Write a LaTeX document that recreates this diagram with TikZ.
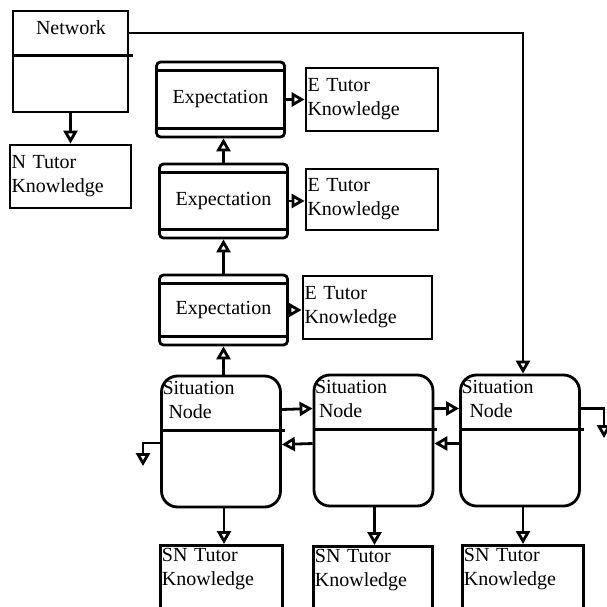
\documentclass[tikz,border=0pt]{standalone}
\usepackage{fontspec}
\setmainfont{Liberation Serif}
\usepackage{tikz}
\usetikzlibrary{arrows.meta}

\begin{document}
\begin{tikzpicture}[x=1pt,y=-1pt,line width=2.8pt,
  font=\fontsize{20}{24}\selectfont,
  tbox/.style={draw,rectangle,align=left,inner xsep=1.5pt,inner ysep=3pt},
  expbox/.style={draw,rounded corners=4pt,minimum width=128pt,inner sep=0pt},
  sitbox/.style={draw,rounded corners=16pt,minimum width=119pt,minimum height=131pt},
  sitlbl/.style={anchor=north west,align=left,inner xsep=1pt,inner ysep=5pt},
  conn/.style={-{Triangle[open,length=13pt,width=14pt]}}]
  \useasboundingbox (0,0) rectangle (607,607);
  \clip (0,0) rectangle (607,607);
  % network and its knowledge
  \node[draw,minimum width=115pt,minimum height=101pt] (net) at (70.5,61.5) {};
  \node (netlbl) at (71,28) {Network};
  \draw ([yshift=-46pt]net.north west) -- ([yshift=-46pt,xshift=4pt]net.north east);
  \node[tbox,text width=118pt,minimum height=63pt] (ntk) at (70.5,176.5) {N Tutor\\Knowledge};
  \draw[conn] (net) -- (ntk);

  % expectations
  \node[expbox,minimum height=75pt] (exp1) at (220.5,99.5) {Expectation};
  \node[expbox,minimum height=74pt] (exp2) at (223.5,201) {Expectation};
  \node[expbox,minimum height=70pt] (exp3) at (223.5,310) {Expectation};
  \foreach \e in {exp1,exp2,exp3}{
    \draw ([yshift=-10pt]\e.north west) -- ([yshift=-10pt]\e.north east);
    \draw ([yshift=10pt]\e.south west) -- ([yshift=10pt]\e.south east);
  }
  \node[tbox,text width=129pt,minimum height=63pt] (etk1) at (372,99.5) {E Tutor\\Knowledge};
  \node[tbox,text width=129pt,minimum height=61pt] (etk2) at (372,199.5) {E Tutor\\Knowledge};
  \node[tbox,text width=126pt,minimum height=63pt] (etk3) at (367.5,307.5) {E Tutor\\Knowledge};
  \draw[conn] (exp1.east) -- (exp1.east -| etk1.west);
  \draw[conn] (exp2.east) -- (exp2.east -| etk2.west);
  \draw[conn] (exp3.east) -- (exp3.east -| etk3.west);
  \draw[conn] (exp2.north) -- (exp2.north |- exp1.south);
  \draw[conn] (exp3) -- (exp2);

  % situation nodes
  \node[sitbox] (sn1) at (221,441.5) {};
  \node[sitbox] (sn2) at (373.5,440.5) {};
  \node[sitbox] (sn3) at (520,440.5) {};
  \node[sitlbl] (sn1t) at (sn1.north west) {Situation\\\hspace{6pt}Node};
  \node[sitlbl] (sn2t) at (sn2.north west) {Situation\\\hspace{4pt}Node};
  \node[sitlbl] (sn3t) at (sn3.north west) {Situation\\\hspace{8pt}Node};
  \foreach \s in {sn1,sn2,sn3}{
    \draw ([yshift=-56pt]\s.north west) -- ([yshift=-56pt,xshift=3pt]\s.north east);
  }
  \draw[conn] (sn1.north -| exp3.south) -- (exp3.south);
  \draw[conn] ([yshift=-23.5pt]net.north east) -| ([xshift=3pt]sn3.north);
  \draw[conn] ([yshift=32pt]sn1.east) -- ([yshift=32pt]sn2.west);
  \draw[conn] ([yshift=-3pt]sn2.west) -- ([yshift=-3pt]sn1.east);
  \draw[conn] ([yshift=32pt]sn2.east) -- ([yshift=32pt]sn3.west);
  \draw[conn] ([yshift=-3pt]sn3.west) -- ([yshift=-3pt]sn2.east);
  \coordinate (out1) at (143,466);
  \coordinate (out3) at (604,438);
  \draw[conn] ([yshift=-1.5pt]sn1.west) -| (out1);
  \draw[conn] ([yshift=32pt]sn3.east) -| (out3);

  % situation node knowledge
  \node[tbox,anchor=north west,text width=119pt,text depth=50pt] (sntk1) at (159,544) {SN Tutor\\Knowledge};
  \node[tbox,anchor=north west,text width=116pt,text depth=50pt] (sntk2) at (312,545) {SN Tutor\\Knowledge};
  \node[tbox,anchor=north west,text width=118pt,text depth=50pt] (sntk3) at (461,544) {SN Tutor\\Knowledge};
  \draw[conn] ([xshift=3pt]sn1.south) -- ([xshift=3pt]sn1.south |- sntk1.north);
  \draw[conn] ([xshift=1pt]sn2.south) -- ([xshift=1pt]sn2.south |- sntk2.north);
  \draw[conn] ([xshift=3pt]sn3.south) -- ([xshift=3pt]sn3.south |- sntk3.north);
\end{tikzpicture}
\end{document}
